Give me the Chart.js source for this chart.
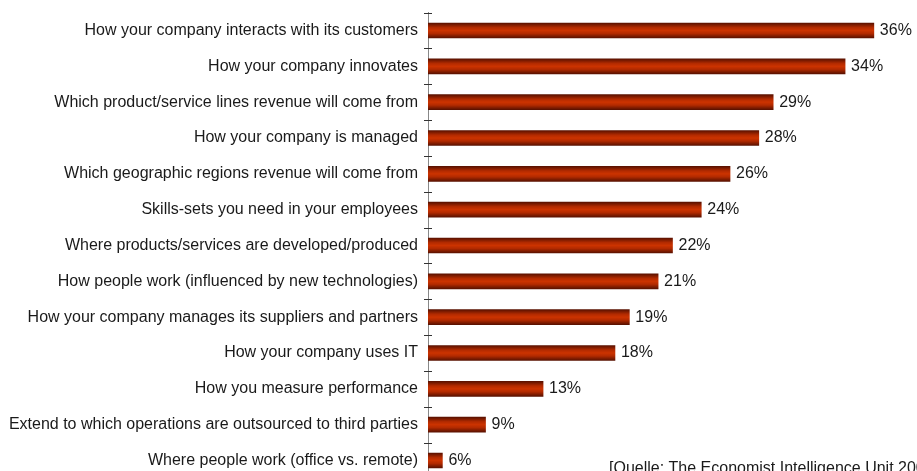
<!DOCTYPE html>
<html>
<head>
<meta charset="utf-8">
<script src="https://cdn.jsdelivr.net/npm/chart.js@4/dist/chart.umd.min.js"></script>
<style>
    html, body { margin: 0; padding: 0; background: #fff; overflow: hidden; }
    #wrap { width: 917px; height: 505px; margin-top: -7px; }
</style>
</head>
<body>
<div id="wrap"><canvas id="chart"></canvas></div>
<script>
const categories = [
    'How your company interacts with its customers',
    'How your company innovates',
    'Which product/service lines revenue will come from',
    'How your company is managed',
    'Which geographic regions revenue will come from',
    'Skills-sets you need in your employees',
    'Where products/services are developed/produced',
    'How people work (influenced by new technologies)',
    'How your company manages its suppliers and partners',
    'How your company uses IT',
    'How you measure performance',
    'Extend to which operations are outsourced to third parties',
    'Where people work (office vs. remote)'
];
const shares = [36, 34, 29, 28, 26, 24, 22, 21, 19, 18, 13, 9, 6];
const sourceNote = '[Quelle: The Economist Intelligence Unit 2005]';

function barGradient(context) {
    const chart = context.chart;
    const y = chart.scales.y;
    if (!chart.chartArea || !y) return '#c83200';
    const cy = y.getPixelForValue(context.dataIndex);
    const g = chart.ctx.createLinearGradient(0, cy - 7.5, 0, cy + 7.5);
    g.addColorStop(0, '#5a1100');
    g.addColorStop(0.3, '#b22a00');
    g.addColorStop(0.5, '#cc3300');
    g.addColorStop(0.7, '#b22a00');
    g.addColorStop(1, '#5a1100');
    return g;
}

// value labels, axis ticks and the source line
const extras = {
    id: 'extras',
    afterDatasetsDraw(chart) {
        const ctx = chart.ctx;
        const y = chart.scales.y;
        const axisX = chart.chartArea.left;
        ctx.save();
        ctx.strokeStyle = '#333';
        ctx.lineWidth = 1;
        for (let i = 0; i <= categories.length; i++) {
            const ty = Math.round(y.getPixelForValue(i - 0.5)) + 0.5;
            ctx.beginPath();
            ctx.moveTo(axisX - 4, ty);
            ctx.lineTo(axisX + 4, ty);
            ctx.stroke();
        }
        ctx.font = '16px "Liberation Sans", Arial, sans-serif';
        ctx.fillStyle = '#1a1a1a';
        ctx.textBaseline = 'middle';
        chart.getDatasetMeta(0).data.forEach((bar, i) => {
            ctx.fillText(shares[i] + '%', bar.x + 6, bar.y);
        });
        ctx.textBaseline = 'top';
        ctx.fillText(sourceNote, 609, 468);
        ctx.restore();
    }
};

new Chart(document.getElementById('chart'), {
    type: 'bar',
    data: {
        labels: categories,
        datasets: [{
            data: shares,
            backgroundColor: barGradient,
            barThickness: 15,
            borderWidth: 0
        }]
    },
    options: {
        indexAxis: 'y',
        responsive: true,
        maintainAspectRatio: false,
        animation: false,
        layout: { padding: { top: 1, bottom: 3, left: 0, right: 0 } },
        plugins: {
            legend: { display: false },
            tooltip: { enabled: false }
        },
        scales: {
            x: {
                display: false,
                min: 5,
                max: 39
            },
            y: {
                afterFit(scale) { scale.width = 428; },
                border: { display: true, color: '#888', width: 1 },
                grid: { display: false, drawTicks: false },
                ticks: {
                    padding: 10,
                    color: '#1a1a1a',
                    font: { family: '"Liberation Sans", Arial, sans-serif', size: 16 }
                }
            }
        }
    },
    plugins: [extras]
});
</script>
</body>
</html>
